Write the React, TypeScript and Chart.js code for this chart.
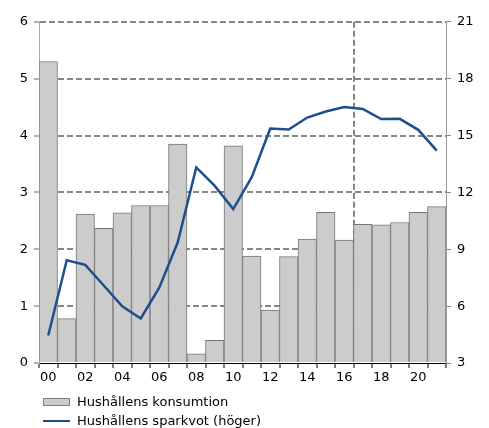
import React, { useEffect, useRef } from "react";
import { Chart, registerables } from "chart.js";

Chart.register(...registerables);

const years = ["00", "01", "02", "03", "04", "05", "06", "07", "08", "09", "10", "11", "12", "13", "14", "15", "16", "17", "18", "19", "20", "21"];
const consumption = [5.3, 0.78, 2.62, 2.37, 2.64, 2.77, 2.77, 3.85, 0.16, 0.4, 3.82, 1.88, 0.93, 1.87, 2.18, 2.65, 2.16, 2.44, 2.43, 2.47, 2.65, 2.75];
const savingsRatio = [4.45, 8.42, 8.18, 7.09, 5.99, 5.35, 6.97, 9.37, 13.32, 12.34, 11.12, 12.8, 15.37, 15.32, 15.95, 16.27, 16.5, 16.4, 15.87, 15.88, 15.3, 14.2];
const forecastStartIndex = 17;

const labelConsumption = "Hushållens konsumtion";
const labelSavings = "Hushållens sparkvot (höger)";

const FONT = "'DejaVu Sans', Verdana, sans-serif";
const GRID = "#858585";
const BLUE = "#1f4e8f";

export default function App() {
  const ref = useRef<HTMLCanvasElement | null>(null);

  useEffect(() => {
    if (!ref.current) return;
    const chart = new Chart(ref.current, {
      type: "bar",
      data: {
        labels: years,
        datasets: [
          {
            type: "line",
            label: labelSavings,
            data: savingsRatio,
            yAxisID: "y1",
            borderColor: BLUE,
            backgroundColor: BLUE,
            borderWidth: 2.5,
            pointRadius: 0,
            tension: 0,
            order: 0,
          } as any,
          {
            type: "bar",
            label: labelConsumption,
            data: consumption,
            yAxisID: "y",
            backgroundColor: "#cccccc",
            borderColor: "#777777",
            borderWidth: 1,
            barPercentage: 1,
            categoryPercentage: 1,
            order: 1,
          },
        ],
      },
      options: {
        animation: false,
        responsive: false,
        layout: { padding: { top: 12, left: 0, right: 0, bottom: 0 } },
        plugins: { legend: { display: false }, tooltip: { enabled: false } },
        scales: {
          x: {
            type: "category",
            offset: true,
            grid: {
              offset: true,
              color: (ctx: any) => (ctx.index === forecastStartIndex ? GRID : "transparent"),
              lineWidth: 2,
              tickColor: "#000",
              tickWidth: 1,
              tickLength: 5,
            },
            border: { color: "#000", width: 1, dash: [6, 3] },
            ticks: {
              autoSkip: false,
              maxRotation: 0,
              padding: 2,
              color: "#000",
              font: { family: FONT, size: 13 },
              callback: (_v: any, i: number) => (i % 2 === 0 ? years[i] : ""),
            },
            afterFit: (s: any) => {
              s.height = 35;
            },
          },
          y: {
            position: "left",
            min: 0,
            max: 6,
            ticks: { stepSize: 1, color: "#000", padding: 6, font: { family: FONT, size: 13 } },
            grid: {
              color: (ctx: any) => (ctx.tick && ctx.tick.value === 0 ? "transparent" : GRID),
              lineWidth: 2,
              tickColor: "#666",
              tickWidth: 1,
              tickLength: 5,
            },
            border: { color: "#aaaaaa", width: 1, dash: [6, 3] },
            afterFit: (s: any) => {
              s.width = 31;
            },
          },
          y1: {
            position: "right",
            min: 3,
            max: 21,
            ticks: { stepSize: 3, color: "#000", padding: 6, font: { family: FONT, size: 13 } },
            grid: { drawOnChartArea: false, tickColor: "#888", tickLength: 5 },
            border: { color: "#999999", width: 1 },
            afterFit: (s: any) => {
              s.width = 35;
            },
          },
        },
      },
    });
    return () => chart.destroy();
  }, []);

  const textStyle: React.CSSProperties = {
    fontFamily: FONT,
    fontSize: 13,
    color: "#000",
    marginLeft: 7,
    whiteSpace: "nowrap",
  };
  const rowStyle: React.CSSProperties = { display: "flex", alignItems: "center", height: 19 };

  return (
    <div style={{ position: "relative", width: 473, height: 420 }}>
      <canvas ref={ref} width={473} height={390} style={{ display: "block" }} />
      <div style={{ position: "absolute", left: 35, top: 384 }}>
        <div style={rowStyle}>
          <span style={{ display: "inline-block", width: 25, height: 6, background: "#cccccc", border: "1px solid #7f7f7f" }} />
          <span style={textStyle}>{labelConsumption}</span>
        </div>
        <div style={rowStyle}>
          <span style={{ display: "inline-block", width: 27, height: 2, background: BLUE }} />
          <span style={textStyle}>{labelSavings}</span>
        </div>
      </div>
    </div>
  );
}
